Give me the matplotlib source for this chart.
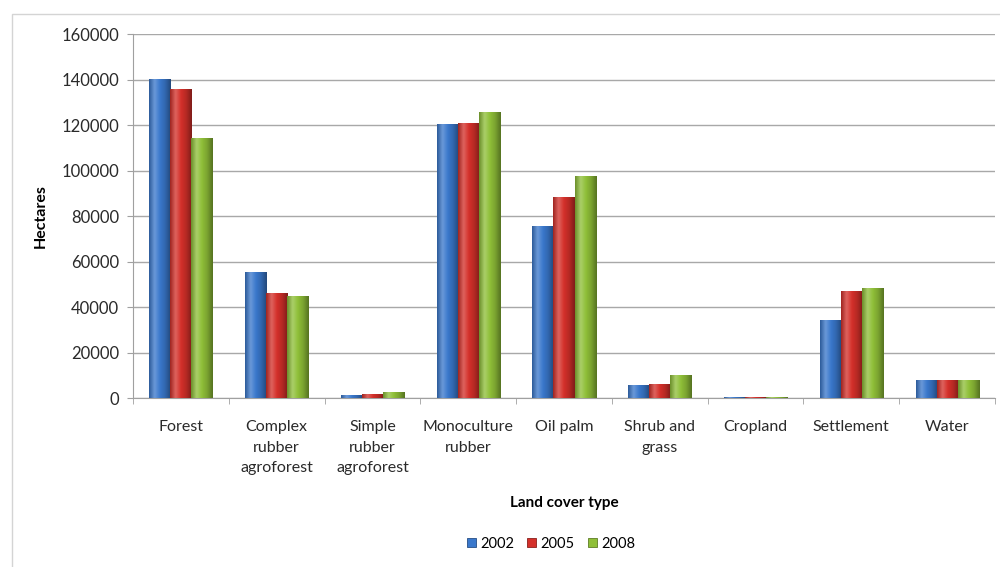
import numpy as np
import matplotlib.pyplot as plt
from matplotlib.patches import Rectangle
from matplotlib.colors import LinearSegmentedColormap

# land cover area per year (hectares)
categories = ['Forest', 'Complex\nrubber\nagroforest', 'Simple\nrubber\nagroforest',
              'Monoculture\nrubber', 'Oil palm', 'Shrub and\ngrass', 'Cropland',
              'Settlement', 'Water']
years = ['2002', '2005', '2008']
ha_2002 = [140000, 55000, 1200, 120000, 75300, 5600, 300, 34000, 7900]
ha_2005 = [135700, 46000, 1700, 120700, 88200, 6100, 400, 46700, 7900]
ha_2008 = [114200, 44800, 2200, 125400, 97300, 10100, 300, 48200, 7900]

colors = ['#3a78cc', '#d4302a', '#8fbf38']

plt.rcParams['font.family'] = ['Lato', 'DejaVu Sans']

fig = plt.figure(figsize=(10, 5.67), dpi=100)
ax = fig.add_axes([0.133, 0.298, 0.862, 0.642])

# outer chart border
fig.patches.append(Rectangle((0.012, -0.02), 1.0, 0.995, transform=fig.transFigure,
                             fill=False, edgecolor='#d4d4d4', linewidth=1.0))

x = np.arange(len(categories))
w = 0.22
series = [ha_2002, ha_2005, ha_2008]

def shade(c, f):
    c = np.array(plt.matplotlib.colors.to_rgb(c))
    if f > 0:
        return tuple(c + (1 - c) * f)
    return tuple(c * (1 + f))

for i, (vals, c) in enumerate(zip(series, colors)):
    bars = ax.bar(x + (i - 1) * w, vals, width=w, color=c, label=years[i],
                  edgecolor=shade(c, -0.35), linewidth=0.6, zorder=3)
    cmap = LinearSegmentedColormap.from_list(
        'g', [shade(c, -0.25), shade(c, 0.25), c, shade(c, -0.15), shade(c, -0.4)])
    grad = np.linspace(0, 1, 64).reshape(1, -1)
    for b in bars:
        bx, by = b.get_x(), b.get_y()
        bw, bh = b.get_width(), b.get_height()
        ax.imshow(grad, cmap=cmap, extent=(bx, bx + bw, by, by + bh),
                  aspect='auto', zorder=3.5, interpolation='bicubic')

ax.set_xlim(-0.5, len(categories) - 0.5)
ax.set_ylim(0, 160000)
ax.set_yticks(np.arange(0, 160001, 20000))
ax.set_yticklabels([str(v) for v in range(0, 160001, 20000)])
ax.set_xticks(x)
ax.set_xticklabels(categories, linespacing=1.6, va='top')
ax.set_xticks(np.arange(-0.5, len(categories), 1), minor=True)
ax.tick_params(axis='x', which='major', length=0, pad=16, labelsize=11.5, labelcolor='#2a2a2a')
ax.tick_params(axis='x', which='minor', length=4, color='#a0a0a0', direction='out')
ax.tick_params(axis='y', length=4, color='#a0a0a0', labelsize=12, labelcolor='#2a2a2a', pad=6)

ax.grid(axis='y', color='#a8a8a8', linewidth=1.0, zorder=0)
ax.set_axisbelow(True)
for s in ['top', 'right']:
    ax.spines[s].set_visible(False)
for s in ['left', 'bottom']:
    ax.spines[s].set_color('#a0a0a0')

ax.set_ylabel('Hectares', fontsize=11.5, fontweight='bold', labelpad=10)
ax.set_xlabel('Land cover type', fontsize=11, fontweight='bold', labelpad=15)

ax.legend(loc='upper center', bbox_to_anchor=(0.485, -0.345), ncol=3, frameon=False,
          fontsize=10.5, handlelength=0.6, handleheight=0.6, handletextpad=0.3,
          columnspacing=0.9)

fig.savefig('out.png', dpi=100)
